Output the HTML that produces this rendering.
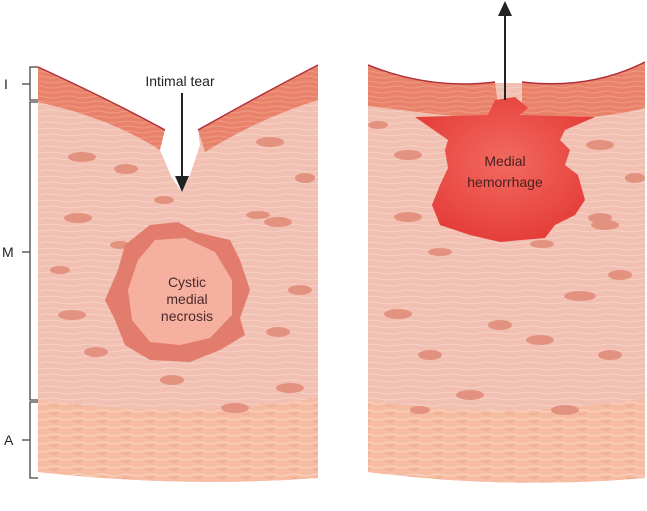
<!DOCTYPE html>
<html><head><style>body{margin:0;background:#fff}svg{display:block}</style></head><body>
<svg width="647" height="511" viewBox="0 0 647 511" font-family="Liberation Sans, sans-serif">
<defs>
<pattern id="fib" width="40" height="6" patternUnits="userSpaceOnUse"><rect width="40" height="6" fill="#f1c0b2"/><path d="M0 3 Q10 1 20 3 T40 3" stroke="#f6d2c6" stroke-width="1" fill="none"/></pattern>
<pattern id="int" width="30" height="5" patternUnits="userSpaceOnUse"><rect width="30" height="5" fill="#e9826a"/><path d="M0 2 Q8 0 15 2 T30 2" stroke="#f09a84" stroke-width="1" fill="none"/></pattern>
<pattern id="adv" width="24" height="8" patternUnits="userSpaceOnUse"><rect width="24" height="8" fill="#f5bca2"/><path d="M0 3 Q6 1 12 3 T24 3" stroke="#f9d2bf" stroke-width="1.2" fill="none"/><path d="M2 6 h8" stroke="#eea68c" stroke-width="1"/></pattern>
<radialGradient id="hem" cx="0.5" cy="0.45" r="0.6"><stop offset="0" stop-color="#f26a60"/><stop offset="1" stop-color="#e43a36"/></radialGradient>
</defs>
<!-- LEFT -->
<path d="M38 67 Q110 100 160 130 L182 185 L200 130 Q260 95 318 65 L318 478 Q180 488 38 472 Z" fill="url(#fib)"/>
<path d="M38 400 Q180 420 318 398 L318 478 Q180 488 38 472 Z" fill="url(#adv)"/>
<path d="M38 67 Q110 100 165 130 L160 150 Q110 118 38 102 Z" fill="url(#int)"/>
<path d="M198 130 Q260 95 318 65 L318 100 Q260 118 205 152 Z" fill="url(#int)"/>
<path d="M38 67 Q110 100 165 130" stroke="#b0303a" stroke-width="1.5" fill="none"/>
<path d="M198 130 Q260 95 318 65" stroke="#b0303a" stroke-width="1.5" fill="none"/>
<path d="M165 130 L160 150 L172 178 L182 192 L190 175 L200 145 L198 130 Z" fill="#fff"/>
<g fill="#e3927f">
<ellipse cx="82" cy="157" rx="14" ry="5"/><ellipse cx="126" cy="169" rx="12" ry="5"/><ellipse cx="270" cy="142" rx="14" ry="5"/><ellipse cx="305" cy="178" rx="10" ry="5"/>
<ellipse cx="78" cy="218" rx="14" ry="5"/><ellipse cx="164" cy="200" rx="10" ry="4"/><ellipse cx="258" cy="215" rx="12" ry="4"/><ellipse cx="278" cy="222" rx="14" ry="5"/>
<ellipse cx="60" cy="270" rx="10" ry="4"/><ellipse cx="300" cy="290" rx="12" ry="5"/><ellipse cx="72" cy="315" rx="14" ry="5"/><ellipse cx="96" cy="352" rx="12" ry="5"/>
<ellipse cx="278" cy="332" rx="12" ry="5"/><ellipse cx="290" cy="388" rx="14" ry="5"/><ellipse cx="172" cy="380" rx="12" ry="5"/><ellipse cx="235" cy="408" rx="14" ry="5"/><ellipse cx="120" cy="245" rx="10" ry="4"/>
</g>
<path d="M150 225 L178 222 L196 232 L230 240 L240 260 L250 290 L240 318 L245 335 L220 350 L190 362 L150 360 L125 345 L115 320 L105 300 L118 270 L125 245 Z" fill="#e27c6c"/>
<path d="M155 240 L185 238 L215 252 L232 280 L232 315 L210 338 L180 345 L150 342 L132 320 L128 290 L138 260 Z" fill="#f6b0a0"/>
<text x="187" y="287" font-size="14" fill="#4a2a2a" text-anchor="middle">Cystic</text>
<text x="187" y="304" font-size="14" fill="#4a2a2a" text-anchor="middle">medial</text>
<text x="187" y="321" font-size="14" fill="#4a2a2a" text-anchor="middle">necrosis</text>
<text x="180" y="86" font-size="14" fill="#222" text-anchor="middle">Intimal tear</text>
<line x1="182" y1="93" x2="182" y2="180" stroke="#222" stroke-width="2"/>
<path d="M175 176 L182 192 L189 176 Z" fill="#222"/>
<g stroke="#444" stroke-width="1.3" fill="none">
<path d="M38 67 H30 V100 H38"/><path d="M38 102 H30 V400 H38"/><path d="M38 402 H30 V478 H38"/>
<path d="M22 84 H30"/><path d="M22 252 H30"/><path d="M22 440 H30"/>
</g>
<text x="4" y="89" font-size="14" fill="#222">I</text>
<text x="2" y="257" font-size="14" fill="#222">M</text>
<text x="4" y="445" font-size="14" fill="#222">A</text>
<!-- RIGHT -->
<path d="M368 65 Q430 90 493 83 L520 83 Q590 90 645 62 L645 478 Q505 490 368 472 Z" fill="url(#fib)"/>
<path d="M368 400 Q505 422 645 398 L645 478 Q505 490 368 472 Z" fill="url(#adv)"/>
<path d="M368 65 Q430 90 495 82 L498 105 L492 120 Q430 114 368 106 Z" fill="url(#int)"/>
<path d="M522 82 Q590 90 645 62 L645 108 Q590 122 522 118 Z" fill="url(#int)"/>
<path d="M368 65 Q430 90 495 82" stroke="#b0303a" stroke-width="1.5" fill="none"/>
<path d="M522 82 Q590 90 645 62" stroke="#b0303a" stroke-width="1.5" fill="none"/>
<g fill="#e3927f">
<ellipse cx="378" cy="125" rx="10" ry="4"/><ellipse cx="408" cy="155" rx="14" ry="5"/><ellipse cx="600" cy="145" rx="14" ry="5"/><ellipse cx="635" cy="178" rx="10" ry="5"/>
<ellipse cx="408" cy="217" rx="14" ry="5"/><ellipse cx="600" cy="218" rx="12" ry="5"/><ellipse cx="605" cy="225" rx="14" ry="5"/><ellipse cx="440" cy="252" rx="12" ry="4"/>
<ellipse cx="542" cy="244" rx="12" ry="4"/><ellipse cx="580" cy="296" rx="16" ry="5"/><ellipse cx="398" cy="314" rx="14" ry="5"/><ellipse cx="620" cy="275" rx="12" ry="5"/>
<ellipse cx="500" cy="325" rx="12" ry="5"/><ellipse cx="540" cy="340" rx="14" ry="5"/><ellipse cx="430" cy="355" rx="12" ry="5"/><ellipse cx="610" cy="355" rx="12" ry="5"/>
<ellipse cx="470" cy="395" rx="14" ry="5"/><ellipse cx="565" cy="410" rx="14" ry="5"/><ellipse cx="420" cy="410" rx="10" ry="4"/>
</g>
<path d="M495 100 L515 97 L528 108 L520 115 L595 117 L565 130 L560 140 L570 150 L565 165 L578 175 L585 200 L575 215 L555 225 L545 238 L500 242 L470 235 L440 225 L432 205 L440 185 L448 168 L445 150 L448 140 L415 117 L488 115 Z" fill="url(#hem)"/>
<text x="505" y="166" font-size="14" fill="#4a2020" text-anchor="middle">Medial</text>
<text x="505" y="187" font-size="14" fill="#4a2020" text-anchor="middle">hemorrhage</text>
<line x1="505" y1="100" x2="505" y2="12" stroke="#222" stroke-width="2"/>
<path d="M498 16 L505 1 L512 16 Z" fill="#222"/>
</svg>
</body></html>
